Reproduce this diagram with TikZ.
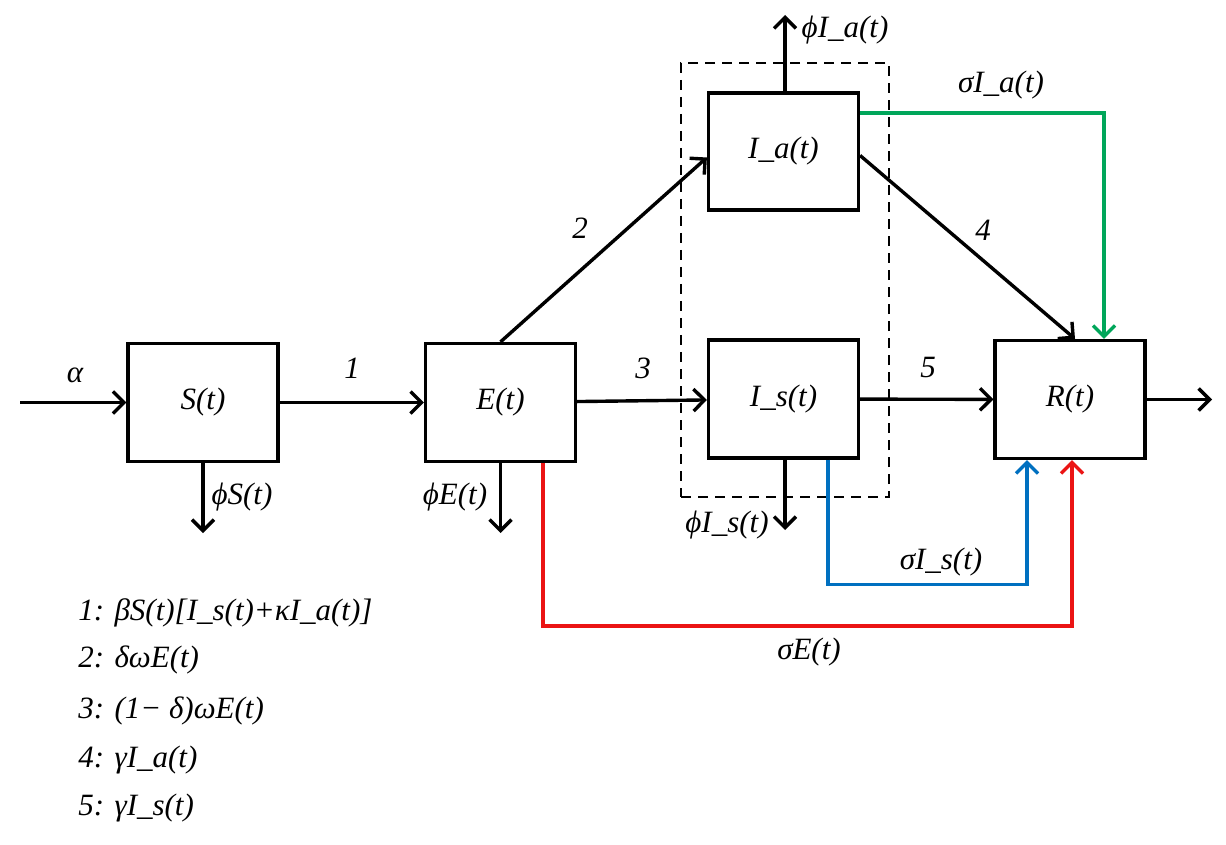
\documentclass[tikz,border=0pt]{standalone}
\usepackage{fontspec}
\setmainfont{Liberation Serif}
\usetikzlibrary{arrows.meta,calc}
\definecolor{fgreen}{RGB}{0,166,90}
\definecolor{fblue}{RGB}{0,112,192}
\definecolor{fred}{RGB}{235,20,20}
\begin{document}
\begin{tikzpicture}[x=0.5pt,y=-0.5pt,
  every node/.style={font=\fontsize{15.5}{18}\selectfont\itshape},
  box/.style={draw,line width=1.6pt,minimum width=75pt,minimum height=59pt,inner sep=0pt},
  flow/.style={line width=1.7pt,-{Straight Barb[length=5.5pt,width=11pt,line width=1.7pt]}},
  lbl/.style={inner sep=0pt},
  grp/.style={draw,line width=1.4pt,dash pattern=on 5pt off 3.5pt}]
\useasboundingbox (0,0) rectangle (1226,845);
% compartments
\node[box] (S) at (203,402.5) {S(t)};
\node[box] (E) at (500.5,402.5) {E(t)};
\node[box,minimum height=58.5pt] (Ia) at (783.5,151.5) {I\_a(t)};
\node[box] (Is) at (783.5,399) {I\_s(t)};
\node[box] (R) at (1070,399.5) {R(t)};
% group
\node[grp,minimum width=104pt,minimum height=217pt,inner sep=0pt] (G) at (785,280) {};
% free ends
\coordinate (ain) at (20,402.5);
\coordinate (rout) at (1212,399.5);
\coordinate (sout) at (203,533);
\coordinate (eout) at (500.5,533);
\coordinate (isout) at (785,530);
\coordinate (iaout) at (785,15);
% main flows
\draw[flow] (ain) -- (S.west);
\draw[flow] (S) -- (E);
\draw[flow] (E.north) -- ([yshift=-3pt]Ia.west);
\draw[flow] (E) -- (Is);
\draw[flow] ([yshift=-2pt]Ia.east) -- ([xshift=2.5pt]R.north);
\draw[flow] (Is) -- (R);
\draw[flow] (R.east) -- (rout);
\draw[flow] (S.south) -- (sout);
\draw[flow] (E.south) -- (eout);
\draw[flow] ([xshift=0.75pt]Is.south) -- (isout);
\draw[flow] ([xshift=0.75pt]Ia.north) -- (iaout);
% coloured flows
\draw[flow,fgreen] ($(Ia.east)+(0,-38.5)$) -| ($(R.north)+(34,0)$);
\draw[flow,fblue] ($(Is.south)+(44.5,0)$) -- ($(Is.south)+(44.5,125)$) -| ($(R.south)+(-43,0)$);
\draw[flow,fred] ($(E.south)+(42.5,0)$) -- ($(E.south)+(42.5,163)$) -| ($(R.south)+(2,0)$);
% labels
\node[lbl] (la) at (75,375) {α};
\node[lbl] (l1) at (352,368) {1};
\node[lbl] (l2) at (580,228) {2};
\node[lbl] (l3) at (643,368) {3};
\node[lbl] (l4) at (983,230) {4};
\node[lbl] (l5) at (928,368) {5};
\node[lbl] (lps) at (242,497) {ϕS(t)};
\node[lbl] (lpe) at (455,497) {ϕE(t)};
\node[lbl] (lpis) at (727,525) {ϕI\_s(t)};
\node[lbl] (lpia) at (845,30) {ϕI\_a(t)};
\node[lbl] (lsia) at (1001,85) {σI\_a(t)};
\node[lbl] (lsis) at (941,562) {σI\_s(t)};
\node[lbl] (lse) at (809,652) {σE(t)};
% legend
\node[lbl,anchor=west] (k1) at (78,613) {1: βS(t)[I\_s(t)+κI\_a(t)]};
\node[lbl,anchor=west] (k2) at (78,660) {2: δωE(t)};
\node[lbl,anchor=west] (k3) at (78,711) {3: (1− δ)ωE(t)};
\node[lbl,anchor=west] (k4) at (78,760) {4: γI\_a(t)};
\node[lbl,anchor=west] (k5) at (78,808) {5: γI\_s(t)};
\end{tikzpicture}
\end{document}
